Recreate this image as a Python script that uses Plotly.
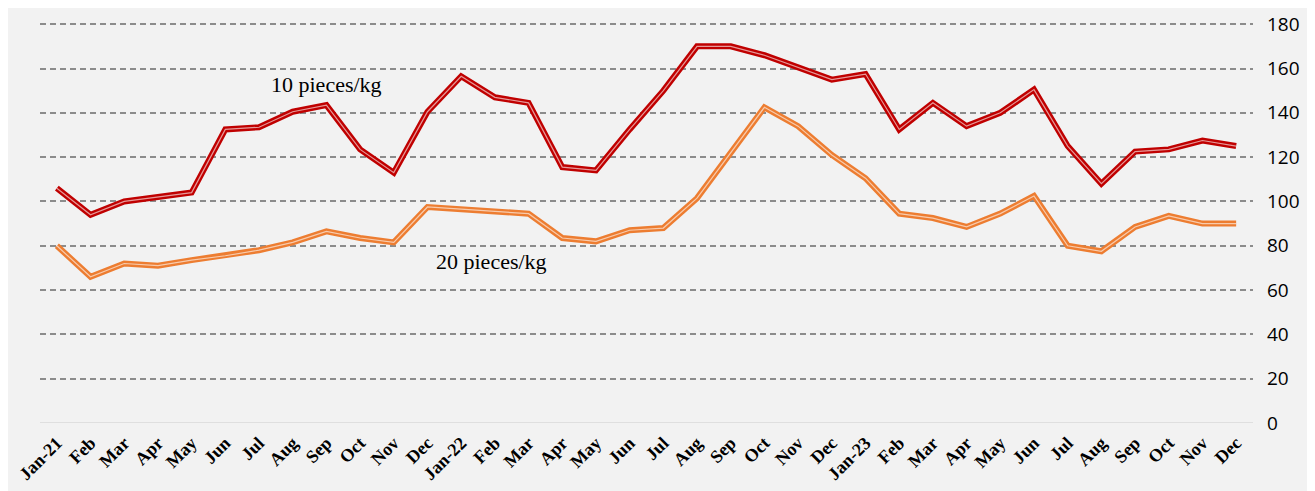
import plotly.graph_objects as go

months = ["Jan-21", "Feb", "Mar", "Apr", "May", "Jun", "Jul", "Aug", "Sep", "Oct", "Nov", "Dec",
          "Jan-22", "Feb", "Mar", "Apr", "May", "Jun", "Jul", "Aug", "Sep", "Oct", "Nov", "Dec",
          "Jan-23", "Feb", "Mar", "Apr", "May", "Jun", "Jul", "Aug", "Sep", "Oct", "Nov", "Dec"]

price_10 = [106, 94, 100, 102, 104, 132.5, 133.5, 140.5, 143.5, 123.5, 113, 140.5,
            156.5, 147, 144.5, 115.5, 114, 132.5, 150, 170, 170, 166, 160.5, 155,
            157.5, 132.5, 144.5, 134, 140, 150.5, 125, 108, 122.5, 123.5, 127.5, 125]

price_20 = [80, 66, 72, 71, 73.5, 75.5, 78, 81.5, 86.5, 83.5, 81.5, 97.5,
            96.5, 95.5, 94.5, 83.5, 82, 87, 88, 101.5, 122, 142.5, 134, 121,
            110.5, 94.5, 92.5, 88.5, 94.5, 102.5, 80, 77.5, 88.5, 93.5, 90, 90]

x_idx = list(range(len(months)))

fig = go.Figure()

# double line look: thick coloured stroke with a thin pale stroke on top
for vals, col in [(price_20, "#ed7d31"), (price_10, "#c00000")]:
    fig.add_trace(go.Scatter(x=x_idx, y=vals, mode="lines",
                             line=dict(color=col, width=6), hoverinfo="skip"))
    fig.add_trace(go.Scatter(x=x_idx, y=vals, mode="lines",
                             line=dict(color="rgba(255,255,255,0.6)", width=1.2), hoverinfo="skip"))

fig.add_annotation(x=8, y=153, text="10 pieces/kg", showarrow=False,
                   font=dict(family="Liberation Serif", size=22, color="#000000"))
fig.add_annotation(x=12.9, y=73, text="20 pieces/kg", showarrow=False,
                   font=dict(family="Liberation Serif", size=22, color="#000000"))

# page body adds 8px on top/left, so the figure is a bit smaller than the window
fig.update_layout(
    width=1307, height=483,
    paper_bgcolor="#f2f2f2", plot_bgcolor="#f2f2f2",
    showlegend=False,
    margin=dict(l=32, r=62, t=14, b=68),
    xaxis=dict(
        range=[-0.5, 35.5], tickmode="array", tickvals=x_idx, ticktext=months,
        tickangle=-45, showgrid=False, zeroline=False, showline=False, ticks="",
        automargin=False, ticklabelstandoff=5,
        tickfont=dict(family="Liberation Serif", size=18, color="#000000", weight="bold"),
    ),
    yaxis=dict(
        range=[0, 181], side="right", tickmode="array", tickvals=list(range(0, 181, 20)),
        showgrid=True, gridcolor="#8c8c8c", griddash="6px,4px", gridwidth=1.5,
        zeroline=False, showline=False, ticks="", ticklabelstandoff=13,
        automargin=False,
        tickfont=dict(family="Open Sans", size=19, color="#000000"),
    ),
)

fig.add_shape(type="line", xref="x", yref="y", x0=-0.5, x1=35.5, y0=0, y1=0,
              line=dict(color="#d9d9d9", width=1.5), layer="below")

fig.write_html("out.html")
